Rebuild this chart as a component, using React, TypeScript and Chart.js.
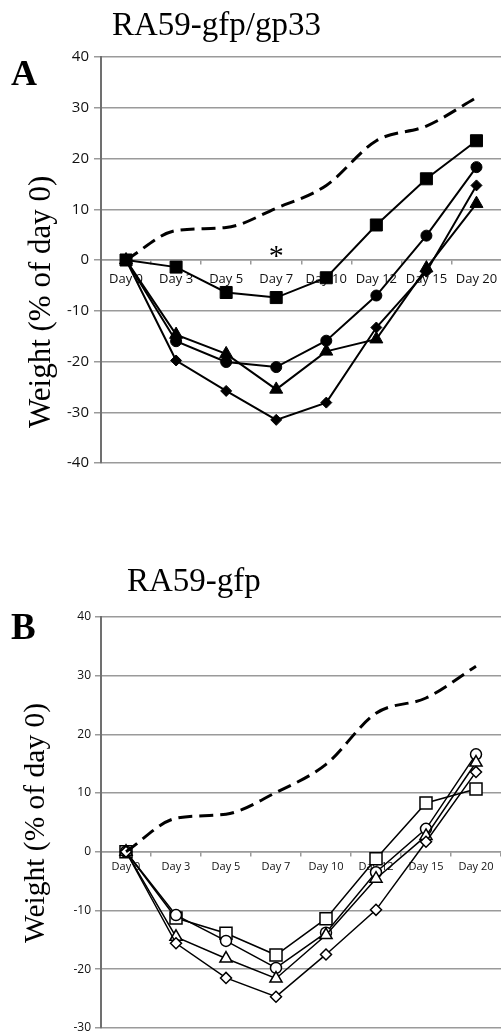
import React, { useEffect, useRef } from 'react';
import { Chart, registerables } from 'chart.js';

Chart.register(...registerables);

// ---------- data ----------
const days = ['Day 0', 'Day 3', 'Day 5', 'Day 7', 'Day 10', 'Day 12', 'Day 15', 'Day 20'];

// Panel A: RA59-gfp/gp33 (filled markers)
const controlA = [0, 5.8, 6.4, 10.2, 14.7, 23.5, 26.4, 32.0];
const squaresA = [0, -1.4, -6.4, -7.4, -3.5, 6.9, 16.0, 23.5];
const circlesA = [0, -16.0, -20.1, -21.1, -15.9, -7.0, 4.8, 18.3];
const trianglesA = [0, -14.7, -18.5, -25.5, -18.0, -15.6, -1.6, 11.1];
const diamondsA = [0, -19.8, -25.8, -31.5, -28.1, -13.3, -2.3, 14.7];

// Panel B: RA59-gfp (open markers)
const controlB = [0, 5.7, 6.4, 10.1, 14.9, 23.6, 26.2, 31.6];
const squaresB = [0, -11.3, -13.9, -17.6, -11.4, -1.2, 8.3, 10.7];
const circlesB = [0, -10.8, -15.2, -19.8, -13.8, -3.5, 3.9, 16.6];
const trianglesB = [0, -14.5, -18.2, -21.6, -14.2, -4.6, 2.7, 15.2];
const diamondsB = [0, -15.6, -21.5, -24.7, -17.5, -9.9, 1.7, 13.6];

const yMinA = -40;
const yMaxA = 40;
const yMinB = -30;
const yMaxB = 40;
const yStep = 10;

const titleA = 'RA59-gfp/gp33';
const titleB = 'RA59-gfp';
const yTitle = 'Weight (% of day 0)';
const asteriskDay = 'Day 7';
const asteriskValue = 1.8;

// ---------- chart helpers ----------
const GRID = '#9a9a9a';
const AXIS = '#707070';
const TICK_FONT = "'Open Sans', 'DejaVu Sans', sans-serif";

function seriesDatasets(
  control: number[],
  squares: number[],
  circles: number[],
  triangles: number[],
  diamonds: number[],
  filled: boolean,
  lineWidth: number,
  sizes: { rect: number; circle: number; triangle: number; rectRot: number }
) {
  const mk = (label: string, data: number[], style: string, r: number) => ({
    label,
    data,
    borderColor: '#000',
    borderWidth: lineWidth,
    backgroundColor: filled ? '#000' : '#fff',
    pointStyle: style,
    pointRadius: r,
    pointBorderWidth: filled ? 1 : 1.5,
    pointBorderColor: '#000',
    pointBackgroundColor: filled ? '#000' : '#fff',
    tension: 0,
    fill: false,
  });
  return [
    {
      label: 'control',
      data: control,
      borderColor: '#000',
      borderWidth: 3,
      borderDash: [14, 7],
      pointRadius: 0,
      cubicInterpolationMode: 'monotone',
      tension: 0.4,
      fill: false,
    },
    mk('diamonds', diamonds, 'rectRot', sizes.rectRot),
    mk('triangles', triangles, 'triangle', sizes.triangle),
    mk('circles', circles, 'circle', sizes.circle),
    mk('squares', squares, 'rect', sizes.rect),
  ];
}

function buildConfig(opts: {
  datasets: any[];
  yMin: number;
  yMax: number;
  xFont: number;
  yFont: number;
  xPad: number;
  yTickLen: number;
  yPad: number;
  withAsterisk: boolean;
}): any {
  const asteriskPlugin = {
    id: 'asterisk',
    afterDatasetsDraw(chart: any) {
      if (!opts.withAsterisk) return;
      const ctx = chart.ctx;
      const x = chart.scales.x.getPixelForValue(days.indexOf(asteriskDay));
      const yc = chart.scales.y.getPixelForValue(asteriskValue);
      const size = 30;
      ctx.save();
      ctx.fillStyle = '#000';
      ctx.font = `${size}px 'Liberation Serif', serif`;
      ctx.textAlign = 'center';
      ctx.textBaseline = 'alphabetic';
      ctx.fillText('*', x, yc + size * 0.47);
      ctx.restore();
    },
  };
  return {
    type: 'line',
    data: { labels: days, datasets: opts.datasets },
    options: {
      responsive: false,
      animation: false,
      events: [],
      layout: { padding: { top: 57, bottom: 10, left: 0, right: 0 } },
      plugins: { legend: { display: false }, tooltip: { enabled: false }, title: { display: false } },
      scales: {
        x: {
          type: 'category',
          position: { y: 0 },
          offset: true,
          grid: {
            offset: true,
            drawOnChartArea: false,
            drawTicks: true,
            tickLength: 4,
            color: GRID,
            lineWidth: 1.5,
          },
          border: { display: true, color: GRID, width: 1.5 },
          ticks: {
            font: { family: TICK_FONT, size: opts.xFont },
            color: '#111',
            padding: opts.xPad,
            maxRotation: 0,
            autoSkip: false,
          },
          afterFit: (s: any) => {
            s.height = 0;
          },
        },
        y: {
          position: 'left',
          min: opts.yMin,
          max: opts.yMax,
          ticks: {
            stepSize: yStep,
            font: { family: TICK_FONT, size: opts.yFont },
            color: '#111',
            padding: opts.yPad,
          },
          grid: { color: GRID, lineWidth: 1.5, tickLength: opts.yTickLen },
          border: { display: true, color: AXIS, width: 2 },
          afterFit: (s: any) => {
            s.width = 101;
          },
        },
      },
    },
    plugins: [asteriskPlugin],
  };
}

function ChartCanvas(props: { make: () => any; left: number; top: number; width: number; height: number }) {
  const ref = useRef<HTMLCanvasElement>(null);
  useEffect(() => {
    if (!ref.current) return;
    const chart = new Chart(ref.current, props.make());
    return () => chart.destroy();
  }, []);
  return (
    <canvas
      ref={ref}
      width={props.width}
      height={props.height}
      style={{ position: 'absolute', left: props.left, top: props.top, width: props.width, height: props.height }}
    />
  );
}

const serif = "'Liberation Serif', 'Times New Roman', serif";

function Label(props: { text: string; left: number; top: number; size: number; bold?: boolean }) {
  return (
    <div
      style={{
        position: 'absolute',
        left: props.left,
        top: props.top,
        fontFamily: serif,
        fontSize: props.size,
        lineHeight: `${props.size}px`,
        fontWeight: props.bold ? 'bold' : 'normal',
        whiteSpace: 'nowrap',
        color: '#000',
      }}
    >
      {props.text}
    </div>
  );
}

function VLabel(props: { text: string; left: number; top: number; size: number }) {
  return (
    <div
      style={{
        position: 'absolute',
        left: props.left,
        top: props.top,
        fontFamily: serif,
        fontSize: props.size,
        lineHeight: `${props.size}px`,
        whiteSpace: 'nowrap',
        color: '#000',
        transformOrigin: '0 0',
        transform: 'rotate(-90deg)',
      }}
    >
      {props.text}
    </div>
  );
}

export default function App() {
  const makeA = () =>
    buildConfig({
      datasets: seriesDatasets(controlA, squaresA, circlesA, trianglesA, diamondsA, true, 2, {
        rect: 8.5,
        circle: 5.5,
        triangle: 7.5,
        rectRot: 5.5,
      }),
      yMin: yMinA,
      yMax: yMaxA,
      xFont: 13,
      yFont: 15,
      xPad: 7,
      yTickLen: 7,
      yPad: 5,
      withAsterisk: true,
    });
  const makeB = () =>
    buildConfig({
      datasets: seriesDatasets(controlB, squaresB, circlesB, trianglesB, diamondsB, false, 1.5, {
        rect: 8.5,
        circle: 5.5,
        triangle: 7,
        rectRot: 5.5,
      }),
      yMin: yMinB,
      yMax: yMaxB,
      xFont: 11,
      yFont: 12,
      xPad: 5,
      yTickLen: 6,
      yPad: 4,
      withAsterisk: false,
    });
  return (
    <div
      style={{
        position: 'absolute',
        left: 0,
        top: 0,
        width: 501,
        height: 1034,
        overflow: 'hidden',
        background: '#fff',
      }}
    >
      <ChartCanvas make={makeA} left={0} top={0} width={511} height={477} />
      <ChartCanvas make={makeB} left={0} top={560} width={511} height={479} />
      <Label text={titleA} left={112} top={8} size={33} />
      <Label text="A" left={11} top={55} size={36} bold />
      <VLabel text={yTitle} left={24} top={428} size={31} />
      <Label text={titleB} left={127} top={564} size={33} />
      <Label text="B" left={11} top={608} size={37} bold />
      <VLabel text={yTitle} left={20} top={943} size={29.5} />
    </div>
  );
}
